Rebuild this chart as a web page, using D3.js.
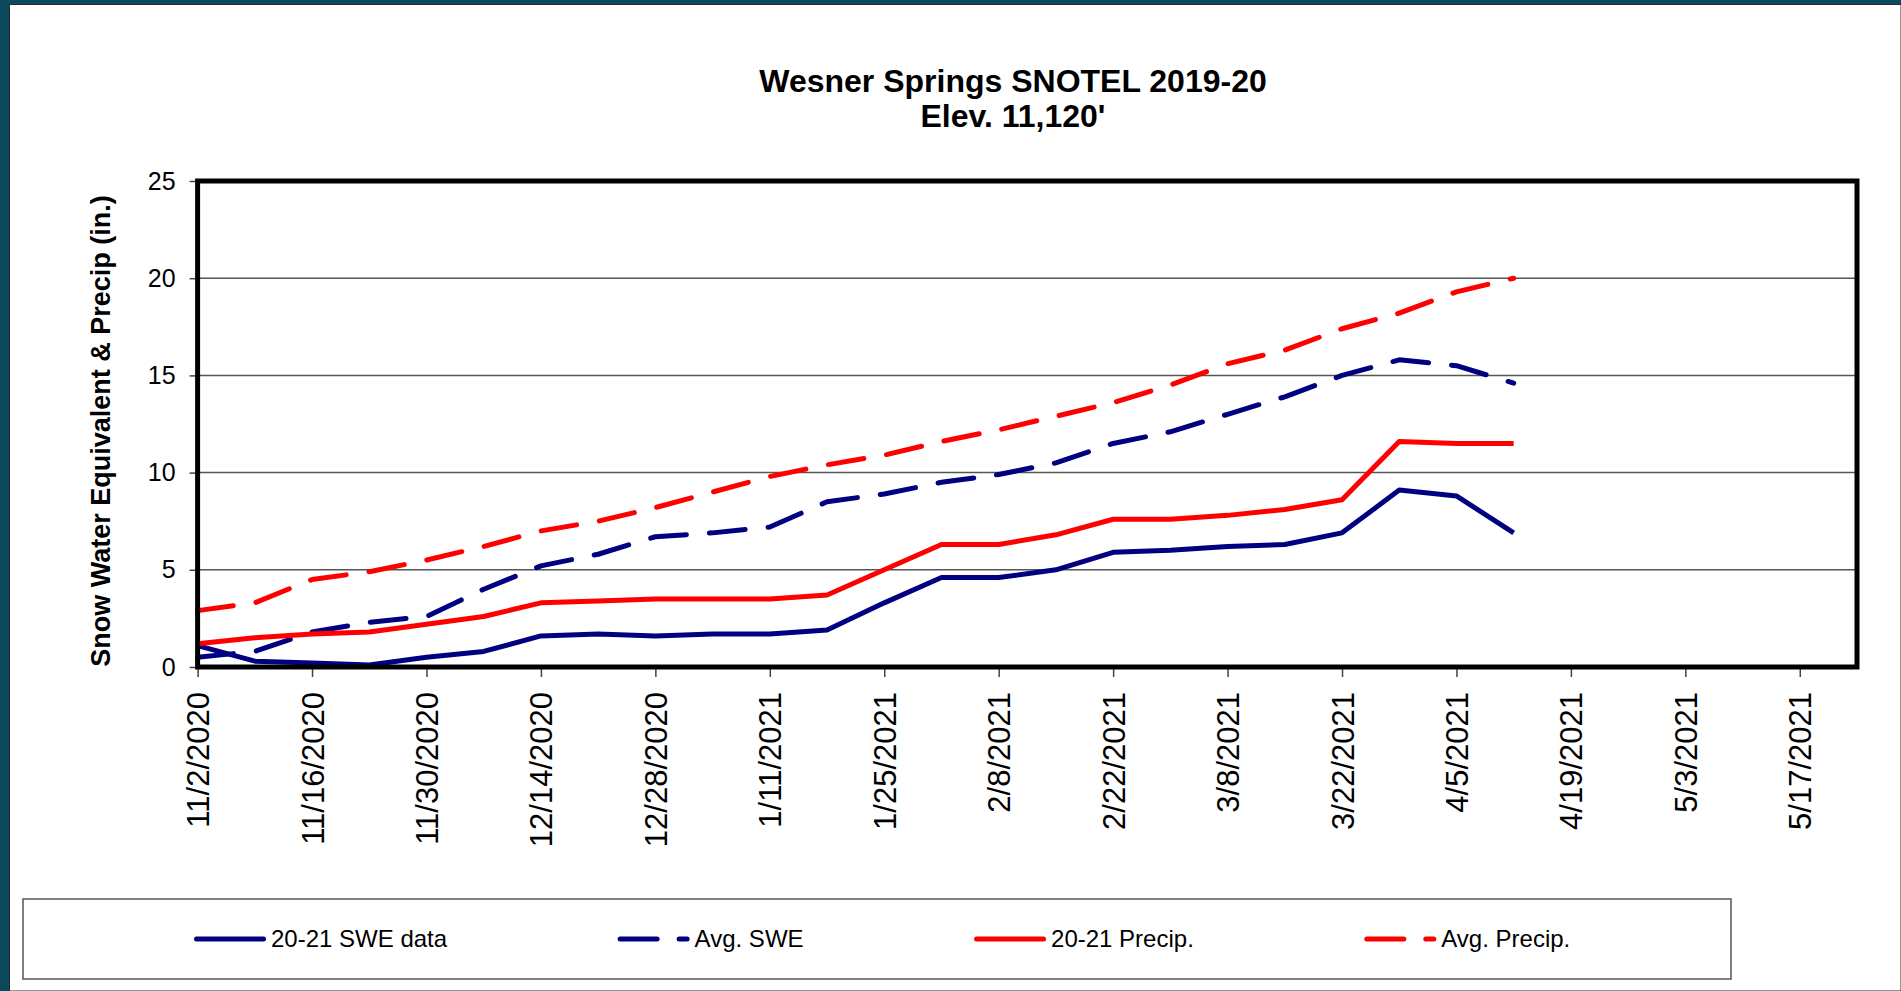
<!DOCTYPE html>
<html>
<head>
<meta charset="utf-8">
<script src="https://cdn.jsdelivr.net/npm/d3@7"></script>
<style>
  html, body { margin: 0; padding: 0; background: #0b4a5e; }
  svg { display: block; }
</style>
</head>
<body>
<div class="chart"></div>
<script>
// weekly readings, 20-21 season
let dates = ['2020-11-02', '2020-11-09', '2020-11-16', '2020-11-23', '2020-11-30', '2020-12-07',
  '2020-12-14', '2020-12-21', '2020-12-28', '2021-01-04', '2021-01-11', '2021-01-18',
  '2021-01-25', '2021-02-01', '2021-02-08', '2021-02-15', '2021-02-22', '2021-03-01',
  '2021-03-08', '2021-03-15', '2021-03-22', '2021-03-29', '2021-04-05', '2021-04-12'];

let sweData = [1.1, 0.3, 0.2, 0.1, 0.5, 0.8, 1.6, 1.7, 1.6, 1.7, 1.7, 1.9,
  3.3, 4.6, 4.6, 5.0, 5.9, 6.0, 6.2, 6.3, 6.9, 9.1, 8.8, 6.9];
let avgSwe = [0.5, 0.8, 1.8, 2.3, 2.6, 4.0, 5.2, 5.8, 6.7, 6.9, 7.2, 8.5,
  8.9, 9.5, 9.9, 10.5, 11.5, 12.1, 13.0, 13.9, 15.0, 15.8, 15.5, 14.6];
let precip = [1.2, 1.5, 1.7, 1.8, 2.2, 2.6, 3.3, 3.4, 3.5, 3.5, 3.5, 3.7,
  5.0, 6.3, 6.3, 6.8, 7.6, 7.6, 7.8, 8.1, 8.6, 11.6, 11.5, 11.5];
let avgPrecip = [2.9, 3.3, 4.5, 4.9, 5.5, 6.2, 7.0, 7.5, 8.2, 9.0, 9.8, 10.4,
  10.9, 11.6, 12.2, 12.9, 13.6, 14.5, 15.6, 16.3, 17.4, 18.2, 19.3, 20.0];

let seriesNames = ['20-21 SWE data', 'Avg. SWE', '20-21 Precip.', 'Avg. Precip.'];
let xTickLabels = ['2020-11-02', '2020-11-16', '2020-11-30', '2020-12-14', '2020-12-28',
  '2021-01-11', '2021-01-25', '2021-02-08', '2021-02-22', '2021-03-08', '2021-03-22',
  '2021-04-05', '2021-04-19', '2021-05-03', '2021-05-17'];
let yTicks = [0, 5, 10, 15, 20, 25];

let parse = d3.utcParse('%Y-%m-%d');
let fmt = d3.utcFormat('%-m/%-d/%Y');
let font = '"Liberation Sans", Arial, sans-serif';

let svg = d3.select('.chart')
  .append('svg')
  .attr('width', 1901)
  .attr('height', 991);

// white page inside teal frame
svg.append('rect')
  .attr('x', 9.5).attr('y', 4.5)
  .attr('width', 1901 - 9.5).attr('height', 991 - 4.5)
  .attr('fill', '#fff')
  .attr('stroke', '#2a2a2a')
  .attr('stroke-width', 1);

let plotL = 197.6, plotR = 1857, plotT = 181, plotB = 667;

let x = d3.scaleUtc()
  .domain([parse('2020-11-02'), parse('2021-05-24')])
  .range([plotL, plotR]);

let y = d3.scaleLinear()
  .domain([0, 25])
  .range([plotB, plotT]);

// title
let title = svg.append('text')
  .attr('text-anchor', 'middle')
  .attr('font-family', font)
  .attr('font-weight', 'bold')
  .attr('font-size', 32);
title.append('tspan').attr('x', 1013).attr('y', 92).text('Wesner Springs SNOTEL 2019-20');
title.append('tspan').attr('x', 1013).attr('y', 127).text("Elev. 11,120'");

// gridlines
svg.append('g')
  .selectAll('line')
  .data(yTicks.filter(d => d > 0 && d < 25))
  .join('line')
  .attr('x1', plotL).attr('x2', plotR)
  .attr('y1', d => y(d)).attr('y2', d => y(d))
  .attr('stroke', '#555')
  .attr('stroke-width', 1.5);

// y axis
let yAxis = svg.append('g')
  .attr('transform', `translate(${plotL},0)`)
  .call(d3.axisLeft(y).tickValues(yTicks).tickSize(8).tickPadding(14));
yAxis.select('.domain').remove();
yAxis.selectAll('line').attr('stroke', '#444').attr('stroke-width', 1.5);
yAxis.selectAll('text')
  .attr('font-family', font)
  .attr('font-size', 25)
  .attr('fill', '#000');

// x axis
let xAxis = svg.append('g')
  .attr('transform', `translate(0,${plotB})`)
  .call(d3.axisBottom(x).tickValues(xTickLabels.map(parse)).tickFormat(fmt).tickSize(10));
xAxis.select('.domain').remove();
xAxis.selectAll('line').attr('stroke', '#444').attr('stroke-width', 1.5);
xAxis.selectAll('text')
  .attr('font-family', font)
  .attr('font-size', 31)
  .attr('fill', '#000')
  .attr('text-anchor', 'end')
  .attr('dy', null)
  .attr('y', 0)
  .attr('transform', 'translate(11,25) rotate(-90)');

// y label
svg.append('text')
  .attr('transform', 'translate(109.5,431) rotate(-90)')
  .attr('text-anchor', 'middle')
  .attr('font-family', font)
  .attr('font-weight', 'bold')
  .attr('font-size', 27)
  .text('Snow Water Equivalent & Precip (in.)');

// series
let series = [
  { name: seriesNames[0], values: sweData, color: '#000080', dash: null },
  { name: seriesNames[1], values: avgSwe, color: '#000080', dash: '36,23' },
  { name: seriesNames[2], values: precip, color: '#ff0000', dash: null },
  { name: seriesNames[3], values: avgPrecip, color: '#ff0000', dash: '36,23' },
];

let lineFunction = d3.line()
  .x((d, i) => x(parse(dates[i])))
  .y(d => y(d));

svg.append('g')
  .selectAll('path')
  .data(series)
  .join('path')
  .attr('d', d => lineFunction(d.values))
  .attr('fill', 'none')
  .attr('stroke', d => d.color)
  .attr('stroke-width', 5)
  .attr('stroke-dasharray', d => d.dash)
  .attr('stroke-linecap', d => d.dash ? 'round' : 'butt')
  .attr('stroke-linejoin', 'round');

// plot frame
svg.append('rect')
  .attr('x', plotL).attr('y', plotT)
  .attr('width', plotR - plotL).attr('height', plotB - plotT)
  .attr('fill', 'none')
  .attr('stroke', '#000')
  .attr('stroke-width', 5);

// legend
svg.append('rect')
  .attr('x', 23).attr('y', 899)
  .attr('width', 1731 - 23).attr('height', 979 - 899)
  .attr('fill', '#fff')
  .attr('stroke', '#555')
  .attr('stroke-width', 1.5);

let lx = 194;
series.forEach(s => {
  let g = svg.append('g').attr('transform', `translate(${lx},939)`);
  g.append('line')
    .attr('x1', 2.5).attr('x2', 69.5)
    .attr('stroke', s.color)
    .attr('stroke-width', 5)
    .attr('stroke-linecap', 'round')
    .attr('stroke-dasharray', s.dash ? '37,22' : null);
  let t = g.append('text')
    .attr('x', 77).attr('y', 8)
    .attr('font-family', font)
    .attr('font-size', 24)
    .text(s.name);
  lx += 77 + t.node().getComputedTextLength() + 170.5;
});
</script>
</body>
</html>
